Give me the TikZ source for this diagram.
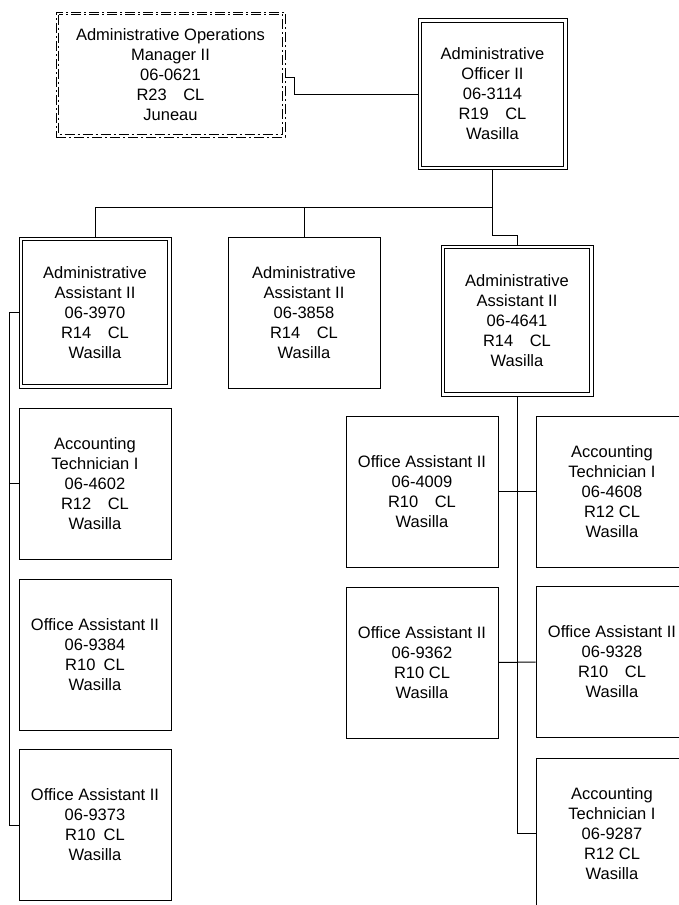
\documentclass[tikz,border=0pt]{standalone}
\usepackage{fontspec}
\setmainfont{Liberation Sans}
\usepackage{tikz}

\begin{document}
\begin{tikzpicture}[x=1pt,y=-1pt,line width=1pt]
        \tikzstyle{every node}=[rectangle, draw, align=center, inner sep=0pt,
        	font=\fontsize{16.5}{20}\selectfont]
        \tikzstyle{post}=[minimum width=152pt, minimum height=151pt]
        \tikzstyle{dashdot}=[dash pattern=on 10pt off 3pt on 2pt off 3pt]
        \useasboundingbox (0,0) rectangle (679,905);
        	% top
        	\node (Manager)[dashdot, minimum width=229pt, minimum height=125pt]
        		at (170.5,74.5) {Administrative Operations\\Manager II\\06-0621\\R23\quad CL\\Juneau};
        	\node (Officer)[post, minimum width=149pt] at (492.5,94) {Administrative\\Officer II\\06-3114\\R19\quad CL\\Wasilla};
        	% second row
        	\node (AsstA)[post] at (95,312.5) {Administrative\\Assistant II\\06-3970\\R14\quad CL\\Wasilla};
        	\node (AsstB)[post] at (304,312.5) {Administrative\\Assistant II\\06-3858\\R14\quad CL\\Wasilla};
        	\node (AsstC)[post] at (517,320.5) {Administrative\\Assistant II\\06-4641\\R14\quad CL\\Wasilla};
        	% left column
        	\node (TechA)[post] at (95,483.5) {Accounting\\Technician I\\06-4602\\R12\quad CL\\Wasilla};
        	\node (OffA)[post] at (95,654.5) {Office Assistant II\\06-9384\\R10\enspace CL\\Wasilla};
        	\node (OffB)[post] at (95,825) {Office Assistant II\\06-9373\\R10\enspace CL\\Wasilla};
        	% right side
        	\node (OffC)[post] at (422,491.5) {Office Assistant II\\06-4009\\R10\quad CL\\Wasilla};
        	\node (TechB)[post] at (612,491.5) {Accounting\\Technician I\\06-4608\\R12 CL\\Wasilla};
        	\node (OffD)[post] at (422,662.5) {Office Assistant II\\06-9362\\R10 CL\\Wasilla};
        	\node (OffE)[post] at (612,662) {Office Assistant II\\06-9328\\R10\quad CL\\Wasilla};
        	\node (TechC)[post] at (612,833.5) {Accounting\\Technician I\\06-9287\\R12 CL\\Wasilla};

        	% inner frames
        	\draw[dashdot] ([shift={(3,3)}]Manager.north west) rectangle ([shift={(-3,-3)}]Manager.south east);
        	\foreach \n in {Officer, AsstA, AsstC}
        		\draw ([shift={(4,4)}]\n.north west) rectangle ([shift={(-4,-4)}]\n.south east);

        	\draw ([yshift=-2.5pt]Manager.east) -- ++(9,0) |- (Officer.west);
        	\draw (Officer.south) -- ++(0,37) coordinate (Bus);
        	\draw (AsstA.north) |- (Bus);
        	\draw (AsstB.north) |- (Bus);
        	\draw (Bus) -- ++(0,28) -| (AsstC.north);
        	\draw (AsstA.west) -- ++(-9,0) coordinate (Col) -- (Col |- OffB.west) -- (OffB.west);
        	\draw (Col |- TechA.west) -- (TechA.west);
        	\draw (AsstC.south) -- (AsstC.south |- TechC.west) -- (TechC.west);
        	\draw (OffC.east) -- (TechB.west);
        	\draw (OffD.east) -- (OffE.west);
		\end{tikzpicture}
\end{document}
